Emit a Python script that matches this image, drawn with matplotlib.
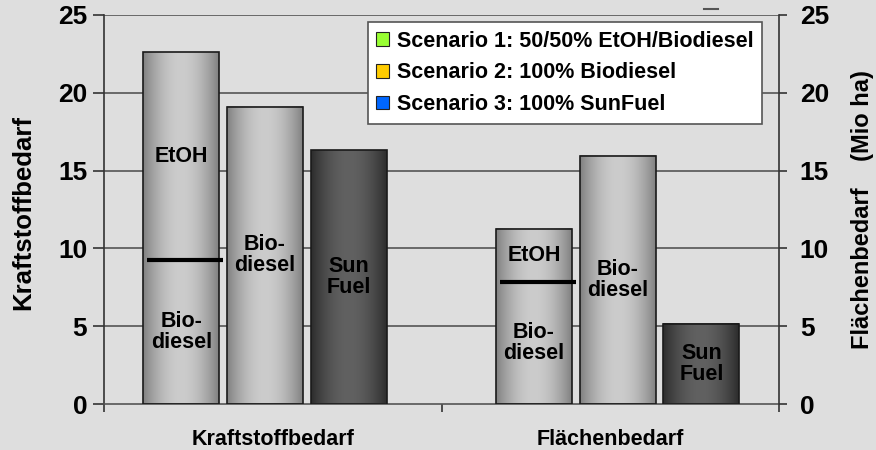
import numpy as np
import matplotlib
matplotlib.use("Agg")
import matplotlib.pyplot as plt
from matplotlib.patches import Patch
from matplotlib.lines import Line2D

plt.rcParams['font.family'] = ['Liberation Sans', 'DejaVu Sans']
plt.rcParams['font.weight'] = 'bold'

# ---- data ----
categories = ['Kraftstoffbedarf', 'Flächenbedarf']
scenario1_total = [22.6, 11.25]      # EtOH + Biodiesel
scenario1_biodiesel = [9.25, 7.85]   # Biodiesel part (divider)
scenario2_biodiesel = [19.1, 15.95]
scenario3_sunfuel = [16.3, 5.15]
legend_labels = ['Scenario 1: 50/50% EtOH/Biodiesel',
                 'Scenario 2: 100% Biodiesel',
                 'Scenario 3: 100% SunFuel']
legend_colors = ['#99FF33', '#FFCC00', '#0066FF']
y_ticks = [0, 5, 10, 15, 20, 25]

BG = '#DEDEDE'
fig = plt.figure(figsize=(8.76, 4.5), dpi=100, facecolor=BG)
ax = fig.add_axes([104/876, 1-404/450, (779-104)/876, (404-15)/450])
ax.set_facecolor(BG)
ax.set_xlim(0, 2)
ax.set_ylim(0, 25)

# gradients
t = np.linspace(0, 1, 256)
bump = np.sin(np.pi * t) ** 0.9
light = 0.50 + 0.30 * bump
dark = 0.17 + 0.21 * bump

def grad_img(v):
    return np.repeat(v[None, :, None], 3, axis=2)

bw = 0.225
group_centers = [0.477, 1.522]
offsets = [-0.248, 0.0, 0.248]

def draw_bar(xc, h, prof):
    x0, x1 = xc - bw/2, xc + bw/2
    ax.imshow(grad_img(prof), extent=[x0, x1, 0, h], aspect='auto',
              interpolation='bilinear', zorder=2)
    ax.bar(xc, h, bw, facecolor='none', edgecolor='#1a1a1a', lw=1.2, zorder=3)

txt_kw = dict(ha='center', va='center', fontsize=15.5, fontweight='bold',
              color='black', zorder=5, linespacing=1.0)
for i, gc in enumerate(group_centers):
    # scenario 1
    xc = gc + offsets[0]
    draw_bar(xc, scenario1_total[i], light)
    ax.plot([xc - bw/2 + 0.012, xc + bw/2 + 0.012], [scenario1_biodiesel[i]]*2,
            color='black', lw=3, zorder=4, solid_capstyle='butt')
    ax.text(xc, (scenario1_total[i] + scenario1_biodiesel[i]) / 2, 'EtOH', **txt_kw)
    ax.text(xc, scenario1_biodiesel[i] / 2, 'Bio-\ndiesel', **txt_kw)
    # scenario 2
    xc = gc + offsets[1]
    draw_bar(xc, scenario2_biodiesel[i], light)
    ax.text(xc, scenario2_biodiesel[i] / 2, 'Bio-\ndiesel', **txt_kw)
    # scenario 3
    xc = gc + offsets[2]
    draw_bar(xc, scenario3_sunfuel[i], dark)
    ax.text(xc, scenario3_sunfuel[i] / 2, 'Sun\nFuel', **txt_kw)

ax.set_xlim(0, 2)
ax.set_ylim(0, 25)

# grid
for y in y_ticks[1:]:
    ax.axhline(y, color='#555555', lw=1.2, zorder=1)

for s in ['top', 'right']:
    ax.spines[s].set_visible(False)
ax.spines['left'].set_color('#333333')
ax.spines['bottom'].set_color('#555555')
ax.spines['left'].set_linewidth(1.2)
ax.spines['bottom'].set_linewidth(1.2)

ax.set_yticks(y_ticks)
ax.tick_params(axis='y', direction='out', length=8, width=1.2, color='#333333',
               labelsize=19, pad=4)
ax.set_xticks([0, 1, 2])
ax.set_xticklabels(['', '', ''])
ax.tick_params(axis='x', which='major', direction='out', length=6, width=1.2, color='#333333')
ax.set_xticks([0.5, 1.5], minor=True)
ax.set_xticklabels(categories, minor=True, fontsize=15.5, fontweight='bold')
ax.tick_params(axis='x', which='minor', length=0, pad=18)

ax2 = ax.twinx()
ax2.set_ylim(0, 25)
ax2.set_yticks(y_ticks)
for s in ['top', 'left', 'bottom']:
    ax2.spines[s].set_visible(False)
ax2.spines['right'].set_color('#333333')
ax2.spines['right'].set_linewidth(1.2)
ax2.tick_params(axis='y', direction='out', length=6, width=1.2, color='#333333',
                labelsize=19, pad=9)

for lbl in ax.get_yticklabels() + ax2.get_yticklabels():
    lbl.set_fontweight('bold')

fig.text(23/876, 1-213/450, 'Kraftstoffbedarf', rotation=90, ha='center', va='center',
         fontsize=18.5, fontweight='bold')
fig.text(863/876, 1-210/450, 'Flächenbedarf    (Mio ha)', rotation=90, ha='center',
         va='center', fontsize=17, fontweight='bold')

handles = [Patch(facecolor=c, edgecolor='#222222', lw=0.8) for c in legend_colors]
leg = ax2.legend(handles, legend_labels, loc='upper right',
                 bbox_to_anchor=(0.975, 0.982), borderaxespad=0, fancybox=False,
                 framealpha=1, edgecolor='#555555', fontsize=15.5,
                 handlelength=0.6, handleheight=0.6, handletextpad=0.35,
                 labelspacing=0.5, borderpad=0.4)
leg.get_frame().set_linewidth(1.2)
for tx in leg.get_texts():
    tx.set_fontweight('bold')
leg.set_zorder(10)

fig.add_artist(Line2D([704/876, 718/876], [1-9/450, 1-9/450], color='#555555', lw=1.5))

fig.savefig('out.png', dpi=100, facecolor=BG)
